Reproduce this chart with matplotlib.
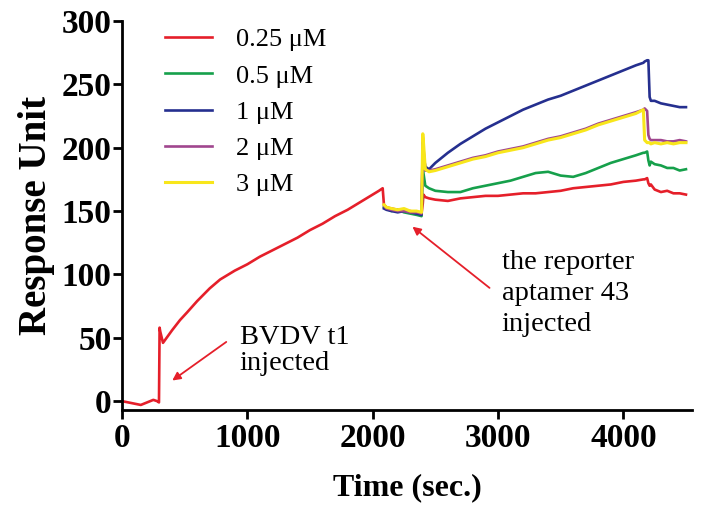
import matplotlib
matplotlib.use("Agg")
from matplotlib import pyplot as plt

# 0.25 uM run, before the reporter injection (only red is recorded here)
t_pre = [0, 50, 100, 150, 200, 250, 280, 295, 300, 305, 327, 400, 463, 519, 600, 700, 783,
         900, 1000, 1100, 1200, 1300, 1400, 1500, 1600, 1700, 1800, 1900, 2000, 2050, 2080]
red_pre = [0, -1, -2, -3, -1, 1, 0, -1, 58, 55, 46, 56, 64, 70, 79, 89, 96,
           103, 108, 114, 119, 124, 129, 135, 140, 146, 151, 157, 163, 166, 168]

# after buffer step / reporter aptamer injection, shared time base
t_post = [2090, 2110, 2150, 2200, 2250, 2300, 2350, 2390, 2400, 2405, 2420,
          2450, 2500, 2600, 2700, 2800, 2900, 3000, 3100, 3200, 3300, 3400, 3500,
          3600, 3700, 3800, 3900, 4000, 4100,
          4160, 4170, 4190, 4200, 4210, 4220, 4250, 4300, 4350, 4400, 4450, 4500]

red_post = [155, 153, 152, 151, 150, 150, 149, 148, 156, 163, 161,
            160, 159, 158, 160, 161, 162, 162, 163, 164, 164, 165, 166,
            168, 169, 170, 171, 173, 174,
            175, 175, 176, 172, 170, 171, 167, 165, 166, 164, 164, 163]
green = [153, 152, 150, 151, 149, 148, 147, 146, 190, 180, 170,
         168, 166, 165, 165, 168, 170, 172, 174, 177, 180, 181, 178,
         177, 180, 184, 188, 191, 194,
         196, 196, 197, 190, 186, 189, 187, 186, 184, 184, 182, 183]
blue = [152, 151, 150, 149, 150, 149, 148, 147, 200, 195, 185,
        183, 188, 196, 203, 209, 215, 220, 225, 230, 234, 238, 241,
        245, 249, 253, 257, 261, 265,
        267, 268, 269, 269, 240, 237, 237, 235, 234, 233, 232, 232]
purple = [154, 152, 151, 150, 150, 149, 149, 148, 208, 200, 182,
          182, 183, 186, 189, 192, 194, 197, 199, 201, 204, 207, 209,
          212, 215, 219, 222, 225, 228,
          230, 231, 229, 210, 207, 206, 206, 206, 205, 205, 206, 205]
yellow = [155, 153, 152, 151, 152, 150, 150, 149, 211, 205, 183,
          181, 182, 185, 188, 191, 193, 196, 198, 200, 203, 206, 208,
          211, 214, 218, 221, 224, 227,
          230, 206, 204, 204, 204, 203, 204, 203, 204, 203, 204, 204]

labels = ["0.25 \u03bcM", "0.5 \u03bcM", "1 \u03bcM", "2 \u03bcM", "3 \u03bcM"]
colors = ["#e51f2a", "#16a04b", "#252f8f", "#a0468e", "#f8e61b"]

plt.rcParams["font.family"] = ["Liberation Serif", "DejaVu Serif"]

fig = plt.figure(figsize=(7.04, 5.07), dpi=100)
ax = fig.add_axes([0.1733, 0.1913, 0.81, 0.7673])

ax.plot(t_pre + t_post, red_pre + red_post, color=colors[0], lw=1.9, label=labels[0])
ax.plot(t_post, green, color=colors[1], lw=1.9, label=labels[1])
ax.plot(t_post, blue, color=colors[2], lw=1.9, label=labels[2])
ax.plot(t_post, purple, color=colors[3], lw=1.9, label=labels[3])
ax.plot(t_post, yellow, color=colors[4], lw=2.2, label=labels[4])

ax.set_xlim(0, 4550)
ax.set_ylim(-7, 300)
ax.set_xticks([0, 1000, 2000, 3000, 4000])
ax.set_yticks([0, 50, 100, 150, 200, 250, 300])
for s in ["top", "right"]:
    ax.spines[s].set_visible(False)
for s in ["left", "bottom"]:
    ax.spines[s].set_linewidth(2)
ax.tick_params(direction="out", length=6.5, width=2, labelsize=24)
ax.tick_params(axis="y", pad=1)
ax.tick_params(axis="x", pad=3)
for lab in ax.get_xticklabels() + ax.get_yticklabels():
    lab.set_fontweight("bold")

ax.set_xlabel("Time (sec.)", fontsize=23, fontweight="bold", labelpad=14)
ax.set_ylabel("Response Unit", fontsize=28, fontweight="bold", labelpad=5)

leg = ax.legend(loc="upper left", bbox_to_anchor=(0.075, 0.982), frameon=False,
                fontsize=19, handlelength=1.8, labelspacing=0.48, handletextpad=0.9,
                borderpad=0, borderaxespad=0)

ax.annotate("", xy=(383, 15), xytext=(850, 48),
            arrowprops=dict(arrowstyle="-|>", color=colors[0], lw=1.3, mutation_scale=12))
ax.text(940, 60, "BVDV t1\ninjected", fontsize=20.5, va="top", ha="left", linespacing=1.05)

ax.annotate("", xy=(2300, 139), xytext=(2950, 88),
            arrowprops=dict(arrowstyle="-|>", color=colors[0], lw=1.3, mutation_scale=12))
ax.text(3030, 119, "the reporter\naptamer 43\ninjected", fontsize=20.5, va="top", ha="left",
        linespacing=1.3)

fig.savefig("out.png", dpi=100)
